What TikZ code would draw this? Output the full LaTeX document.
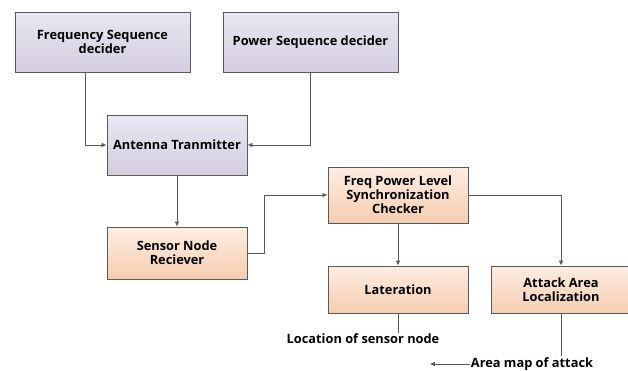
\documentclass[tikz,border=0pt]{standalone}
\usepackage{fontspec}
\setmainfont{Open Sans}
\usetikzlibrary{arrows.meta,shadows}
\definecolor{lavtop}{HTML}{EAE6F1}
\definecolor{lavbot}{HTML}{D3CDE0}
\definecolor{pchtop}{HTML}{FDEDE2}
\definecolor{pchbot}{HTML}{F5CDB0}
\definecolor{edge}{HTML}{5A5A5A}
\begin{document}
\begin{tikzpicture}[x=1pt, y=-1pt,
		font=\bfseries\fontsize{12.8}{14}\selectfont,
		blk/.style = {draw=edge, line width=0.8pt, align=center, inner sep=0pt,
			drop shadow={shadow xshift=1.2pt, shadow yshift=-1.2pt, fill=black, opacity=0.25}},
		tx/.style = {blk, top color=lavtop, bottom color=lavbot},
		rx/.style = {blk, top color=pchtop, bottom color=pchbot},
		result/.style = {inner sep=1pt},
		conn/.style = {draw=edge, line width=0.8pt, -{Latex[length=5pt, width=4.5pt]}},
		wire/.style = {draw=edge, line width=0.8pt}]
		\useasboundingbox (0, 0) rectangle (628, 370);
		% transmitter side
		\node[tx, minimum width=175pt, minimum height=60pt] (fsd) at (102.5, 42) {Frequency Sequence\\decider};
		\node[tx, minimum width=175pt, minimum height=60pt] (psd) at (310.5, 42) {Power Sequence decider};
		\node[tx, minimum width=140pt, minimum height=60pt] (ant) at (177, 145) {Antenna Tranmitter};
		% receiver side
		\node[rx, minimum width=140pt, minimum height=52pt] (snr) at (177, 253) {Sensor Node\\Reciever};
		\node[rx, minimum width=140pt, minimum height=56pt] (fpl) at (398, 195) {Freq Power Level\\Synchronization\\Checker};
		\node[rx, minimum width=140pt, minimum height=47pt] (lat) at (398, 289.5) {Lateration};
		\node[rx, minimum width=140pt, minimum height=47pt] (aal) at (561, 289.5) {Attack Area\\Localization};
		% outputs
		\node[result] (loc) at (363, 339) {Location of sensor node};
		\node[result] (map) at (532, 364) {Area map of attack};

		\draw[conn] ([xshift=-17.5pt]fsd.south) |- (ant);
		\draw[conn] (psd.south) |- (ant);
		\draw[conn] (ant) -- (snr);
		\draw[conn] (snr.east) -- ++(17, 0) |- (fpl.west);
		\draw[conn] (fpl) -- (lat);
		\draw[conn] (fpl.east) -| (aal.north);
		\draw[wire] (lat.south) -- (lat.south |- loc.north);
		\draw[wire] (aal.south) -- (aal.south |- map.north);
		\draw[conn] (map.west) -- ++(-40, 0);
	\end{tikzpicture}
\end{document}
